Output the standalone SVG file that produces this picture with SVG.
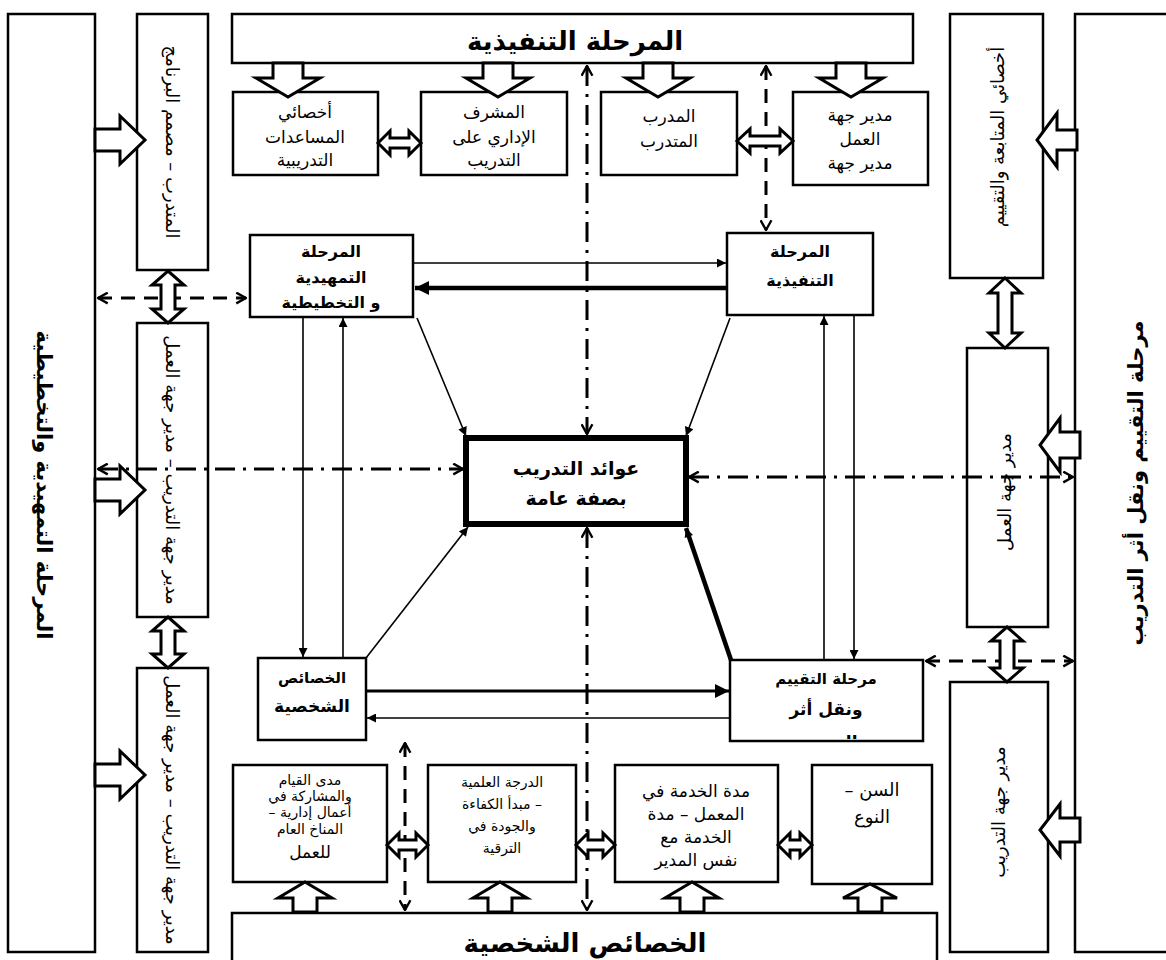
<svg xmlns="http://www.w3.org/2000/svg" width="1166" height="960" viewBox="0 0 1166 960">
<style>
  text { font-family: "DejaVu Sans", "Noto Sans", sans-serif; fill: #000; direction: rtl; }
  .box { fill: #fff; stroke: #000; stroke-width: 2.5; }
  .thick { fill: #fff; stroke: #000; stroke-width: 6; }
  .blk { fill: #fff; stroke: #000; stroke-width: 3; stroke-linejoin: miter; }
  .ln { fill: none; stroke: #000; stroke-width: 1.6; }
  .ln2 { fill: none; stroke: #000; stroke-width: 3; }
  .ln4 { fill: none; stroke: #000; stroke-width: 4.5; }
  .dd { fill: none; stroke: #000; stroke-width: 3; stroke-dasharray: 20 8 3 8; }
  .ds { fill: none; stroke: #000; stroke-width: 3; stroke-dasharray: 14 9; }
  .big { font-size: 26px; font-weight: bold; }
  .side { font-size: 21px; font-weight: bold; }
  .col { font-size: 18px; }
  .sub { font-size: 17px; }
  .mid { font-size: 16px; font-weight: bold; }
  .bsub { font-size: 14px; }
</style>
<defs>
  <marker id="tri" viewBox="0 0 10 10" refX="10" refY="5" markerWidth="11" markerHeight="9" markerUnits="userSpaceOnUse" orient="auto-start-reverse">
    <path d="M0 0 L10 5 L0 10 Z" fill="#000"/>
  </marker>
  <marker id="triL" viewBox="0 0 10 10" refX="10" refY="5" markerWidth="17" markerHeight="14" markerUnits="userSpaceOnUse" orient="auto-start-reverse">
    <path d="M0 0 L10 5 L0 10 Z" fill="#000"/>
  </marker>
  <marker id="open" viewBox="0 0 12 12" refX="11" refY="6" markerWidth="13" markerHeight="13" markerUnits="userSpaceOnUse" orient="auto-start-reverse">
    <path d="M2 1 L11 6 L2 11" fill="none" stroke="#000" stroke-width="2.2"/>
  </marker>
  <clipPath id="evalClip"><rect x="731" y="661" width="191" height="78"/></clipPath>
</defs>
<rect x="0" y="0" width="1166" height="960" fill="#fff"/>

<!-- Left big box -->
<g id="left-phase">
  <rect class="box" x="8" y="14" width="87" height="938"/>
  <text class="side" transform="translate(44 485) rotate(90)" text-anchor="middle" dominant-baseline="central">المرحلة التمهيدية والتخطيطية</text>
</g>
<g id="left-1">
  <rect class="box" x="137" y="14" width="71" height="256"/>
  <text class="col" transform="translate(172 142) rotate(90)" text-anchor="middle" dominant-baseline="central">المتدرب – مصمم البرنامج</text>
</g>
<g id="left-2">
  <rect class="box" x="137" y="323" width="71" height="294"/>
  <text class="col" transform="translate(172 470) rotate(90)" text-anchor="middle" dominant-baseline="central">مدير جهة التدريب – مدير جهة العمل</text>
</g>
<g id="left-3">
  <rect class="box" x="137" y="668" width="71" height="284"/>
  <text class="col" transform="translate(172 810) rotate(90)" text-anchor="middle" dominant-baseline="central">مدير جهة التدريب – مدير جهة العمل</text>
</g>

<!-- Right big box -->
<g id="right-phase">
  <rect class="box" x="1075" y="14" width="100" height="938"/>
  <text class="side" font-size="19" transform="translate(1136 483) rotate(-90)" text-anchor="middle" dominant-baseline="central">مرحلة التقييم ونقل أثر التدريب</text>
</g>
<g id="right-1">
  <rect class="box" x="950" y="14" width="93" height="264"/>
  <text class="col" transform="translate(997 137) rotate(-90)" text-anchor="middle" dominant-baseline="central">أخصائي المتابعة والتقييم</text>
</g>
<g id="right-2">
  <rect class="box" x="967" y="348" width="81" height="279"/>
  <text class="col" font-size="19" transform="translate(1004 492) rotate(-90)" text-anchor="middle" dominant-baseline="central">مدير جهة العمل</text>
</g>
<g id="right-3">
  <rect class="box" x="950" y="682" width="98" height="270"/>
  <text class="col" transform="translate(998 812) rotate(-90)" text-anchor="middle" dominant-baseline="central">مدير جهة التدريب</text>
</g>

<!-- Top -->
<g id="top-phase">
  <rect class="box" x="232" y="14" width="681" height="49"/>
  <text class="big" x="575" y="50" text-anchor="middle">المرحلة التنفيذية</text>
</g>
<g id="top-1">
  <rect class="box" x="233" y="92" width="145" height="83"/>
  <text class="sub" text-anchor="middle"><tspan x="305" y="118">أخصائي</tspan><tspan x="305" y="143">المساعدات</tspan><tspan x="305" y="166">التدريبية</tspan></text>
</g>
<g id="top-2">
  <rect class="box" x="421" y="92" width="146" height="83"/>
  <text class="sub" text-anchor="middle"><tspan x="494" y="118">المشرف</tspan><tspan x="494" y="143">الإداري على</tspan><tspan x="494" y="166">التدريب</tspan></text>
</g>
<g id="top-3">
  <rect class="box" x="601" y="92" width="136" height="83"/>
  <text class="sub" text-anchor="middle"><tspan x="669" y="122">المدرب</tspan><tspan x="669" y="147">المتدرب</tspan></text>
</g>
<g id="top-4">
  <rect class="box" x="793" y="92" width="135" height="93"/>
  <text class="sub" text-anchor="middle"><tspan x="860" y="121">مدير جهة</tspan><tspan x="860" y="145">العمل</tspan><tspan x="860" y="169">مدير جهة</tspan></text>
</g>

<!-- Middle -->
<g id="prep">
  <rect class="box" x="250" y="235" width="163" height="82"/>
  <text class="mid" text-anchor="middle"><tspan x="331" y="257">المرحلة</tspan><tspan x="331" y="283">التمهيدية</tspan><tspan x="331" y="308">و التخطيطية</tspan></text>
</g>
<g id="exec">
  <rect class="box" x="727" y="233" width="146" height="82"/>
  <text class="mid" text-anchor="middle"><tspan x="800" y="257">المرحلة</tspan><tspan x="800" y="286">التنفيذية</tspan></text>
</g>
<g id="center">
  <rect class="thick" x="466" y="438" width="220" height="86"/>
  <text font-size="19" font-weight="bold" text-anchor="middle"><tspan x="576" y="475">عوائد التدريب</tspan><tspan x="576" y="505">بصفة عامة</tspan></text>
</g>
<g id="personal">
  <rect class="box" x="258" y="658" width="108" height="82"/>
  <text font-size="15" font-weight="bold" text-anchor="middle" fill="#333"><tspan x="312" y="683">الخصائص</tspan></text>
  <text font-size="17" font-weight="bold" text-anchor="middle"><tspan x="312" y="712">الشخصية</tspan></text>
</g>
<g id="evaluation">
  <rect class="box" x="730" y="660" width="193" height="81"/>
  <text font-size="15" font-weight="bold" text-anchor="middle" fill="#333"><tspan x="826" y="684">مرحلة التقييم</tspan></text>
  <text font-size="17" font-weight="bold" text-anchor="middle"><tspan x="826" y="715">ونقل أثر</tspan></text>
  <text font-size="17" font-weight="bold" text-anchor="middle" clip-path="url(#evalClip)"><tspan x="826" y="748">التدريب</tspan></text>
</g>

<!-- Bottom -->
<g id="bottom-phase">
  <rect class="box" x="232" y="913" width="705" height="60"/>
  <text class="big" x="585" y="952" text-anchor="middle">الخصائص الشخصية</text>
</g>
<g id="bottom-1">
  <rect class="box" x="233" y="765" width="154" height="117"/>
  <text class="bsub" text-anchor="middle"><tspan x="310" y="785">مدى القيام</tspan><tspan x="310" y="801">والمشاركة في</tspan><tspan x="310" y="817">أعمال إدارية –</tspan><tspan x="310" y="834">المناخ العام</tspan><tspan x="310" y="858" font-size="17">للعمل</tspan></text>
</g>
<g id="bottom-2">
  <rect class="box" x="428" y="765" width="148" height="117"/>
  <text class="bsub" font-size="15" text-anchor="middle"><tspan x="502" y="787">الدرجة العلمية</tspan><tspan x="502" y="809">– مبدأ الكفاءة</tspan><tspan x="502" y="831">والجودة في</tspan><tspan x="502" y="853">الترقية</tspan></text>
</g>
<g id="bottom-3">
  <rect class="box" x="615" y="765" width="163" height="117"/>
  <text font-size="17" text-anchor="middle"><tspan x="696" y="797">مدة الخدمة في</tspan><tspan x="696" y="820">المعمل – مدة</tspan><tspan x="696" y="843">الخدمة مع</tspan><tspan x="696" y="866">نفس المدير</tspan></text>
</g>
<g id="bottom-4">
  <rect class="box" x="812" y="765" width="120" height="119"/>
  <text font-size="18" text-anchor="middle"><tspan x="872" y="796">السن –</tspan><tspan x="872" y="823">النوع</tspan></text>
</g>

<!-- Connectors -->
<g id="connectors">
  <!-- block arrows left -->
  <path class="blk" d="M95 129 L120 129 L120 116 L145 140 L120 164 L120 151 L95 151 Z"/>
  <path class="blk" d="M95 479 L120 479 L120 466 L145 490 L120 514 L120 501 L95 501 Z"/>
  <path class="blk" d="M95 764 L120 764 L120 751 L145 775 L120 799 L120 786 L95 786 Z"/>
  <!-- block arrows right -->
  <path class="blk" d="M1077 130 L1057 130 L1057 113 L1037 140 L1057 167 L1057 150 L1077 150 Z"/>
  <path class="blk" d="M1080 432 L1060 432 L1060 418 L1040 445 L1060 472 L1060 458 L1080 458 Z"/>
  <path class="blk" d="M1080 818 L1060 818 L1060 804 L1040 830 L1060 856 L1060 842 L1080 842 Z"/>
  <!-- block arrows top (down) -->
  <path class="blk" d="M273 63 L303 63 L303 78 L320 78 L288 97 L256 78 L273 78 Z"/>
  <path class="blk" d="M483 63 L513 63 L513 78 L530 78 L498 97 L466 78 L483 78 Z"/>
  <path class="blk" d="M643 63 L673 63 L673 78 L690 78 L658 97 L626 78 L643 78 Z"/>
  <path class="blk" d="M836 63 L866 63 L866 78 L883 78 L851 97 L819 78 L836 78 Z"/>
  <!-- block arrows bottom (up) -->
  <path class="blk" d="M293 912 L293 898 L278 898 L305 882 L332 898 L317 898 L317 912 Z"/>
  <path class="blk" d="M488 912 L488 898 L473 898 L500 882 L527 898 L512 898 L512 912 Z"/>
  <path class="blk" d="M680 912 L680 898 L665 898 L692 882 L719 898 L704 898 L704 912 Z"/>
  <path class="blk" d="M858 912 L858 898 L843 898 L870 884 L897 898 L882 898 L882 912 Z"/>

  <!-- dashed / dash-dot -->
  <line class="ds" x1="98" y1="298" x2="246" y2="298" marker-start="url(#open)" marker-end="url(#open)"/>
  <line class="dd" x1="98" y1="469" x2="463" y2="469" marker-start="url(#open)" marker-end="url(#open)"/>
  <line class="dd" x1="689" y1="477" x2="1073" y2="477" marker-start="url(#open)" marker-end="url(#open)"/>
  <line class="ds" x1="926" y1="661" x2="1073" y2="661" marker-start="url(#open)" marker-end="url(#open)"/>
  <line class="dd" x1="587" y1="66" x2="587" y2="434" marker-start="url(#open)" marker-end="url(#open)"/>
  <line class="dd" x1="587" y1="528" x2="587" y2="910" marker-start="url(#open)" marker-end="url(#open)"/>
  <line class="ds" x1="766" y1="66" x2="766" y2="230" marker-start="url(#open)" marker-end="url(#open)"/>
  <line class="ds" x1="405" y1="743" x2="405" y2="910" marker-start="url(#open)" marker-end="url(#open)"/>

  <!-- double hollow arrows horizontal -->
  <path class="blk" d="M378 143 L390 131 L390 138 L409 138 L409 131 L421 143 L409 155 L409 148 L390 148 L390 155 Z"/>
  <path class="blk" d="M737 141 L750 129 L750 136 L780 136 L780 129 L793 141 L780 153 L780 146 L750 146 L750 153 Z"/>
  <path class="blk" d="M387 845 L399 833 L399 840 L416 840 L416 833 L428 845 L416 857 L416 850 L399 850 L399 857 Z"/>
  <path class="blk" d="M576 845 L588 833 L588 840 L603 840 L603 833 L615 845 L603 857 L603 850 L588 850 L588 857 Z"/>
  <path class="blk" d="M778 845 L790 833 L790 840 L800 840 L800 833 L812 845 L800 857 L800 850 L790 850 L790 857 Z"/>
  <!-- double hollow arrows vertical -->
  <path class="blk" d="M168 271 L184 285 L175 285 L175 309 L184 309 L168 323 L152 309 L161 309 L161 285 L152 285 Z"/>
  <path class="blk" d="M168 617 L184 631 L175 631 L175 654 L184 654 L168 668 L152 654 L161 654 L161 631 L152 631 Z"/>
  <path class="blk" d="M1005 278 L1021 293 L1012 293 L1012 333 L1021 333 L1005 348 L989 333 L998 333 L998 293 L989 293 Z"/>
  <path class="blk" d="M1007 627 L1023 641 L1014 641 L1014 668 L1023 668 L1007 682 L991 668 L1000 668 L1000 641 L991 641 Z"/>

  <!-- solid connectors middle -->
  <line class="ln" x1="413" y1="263" x2="726" y2="263" marker-end="url(#tri)"/>
  <line class="ln4" x1="727" y1="288" x2="415" y2="288" marker-end="url(#triL)"/>
  <line class="ln" x1="303" y1="317" x2="303" y2="657" marker-end="url(#tri)"/>
  <line class="ln" x1="343" y1="658" x2="343" y2="318" marker-end="url(#tri)"/>
  <line class="ln" x1="824" y1="660" x2="824" y2="316" marker-end="url(#tri)"/>
  <line class="ln" x1="854" y1="315" x2="854" y2="659" marker-end="url(#tri)"/>
  <line class="ln" x1="417" y1="318" x2="466" y2="436" marker-end="url(#tri)"/>
  <line class="ln" x1="730" y1="318" x2="686" y2="436" marker-end="url(#tri)"/>
  <line class="ln" x1="366" y1="658" x2="468" y2="527" marker-end="url(#tri)"/>
  <line class="ln4" x1="731" y1="660" x2="686" y2="528" marker-end="url(#tri)"/>
  <line class="ln2" x1="366" y1="691" x2="729" y2="691" marker-end="url(#triL)"/>
  <line class="ln" x1="730" y1="718" x2="367" y2="718" marker-end="url(#tri)"/>
</g>
</svg>
